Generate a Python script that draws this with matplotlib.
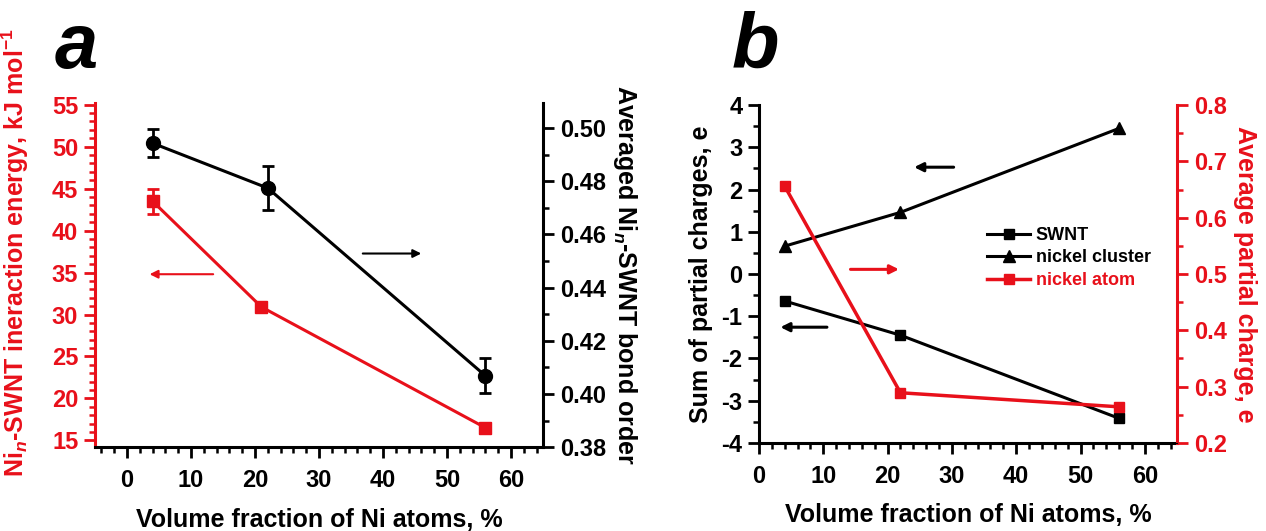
import matplotlib
matplotlib.use("Agg")
import matplotlib.pyplot as plt
from matplotlib.ticker import MultipleLocator, FormatStrFormatter

plt.rcParams['font.family'] = ['Liberation Sans', 'DejaVu Sans']
plt.rcParams['font.weight'] = 'bold'
plt.rcParams['axes.unicode_minus'] = False
plt.rcParams['mathtext.fontset'] = 'custom'
plt.rcParams['mathtext.rm'] = 'Liberation Sans:bold'
plt.rcParams['mathtext.it'] = 'Liberation Sans:bold:italic'
plt.rcParams['mathtext.bf'] = 'Liberation Sans:bold'

RED = '#e8101a'

# panel a: interaction energy (left) and bond order (right)
x_energy = [4, 21, 56]
energy = [43.5, 30.9, 16.5]
energy_err = [1.5, 0.6, 0.6]

x_bond = [4, 22, 56]
bond_order = [0.4943, 0.4774, 0.4068]
bond_err = [0.0053, 0.0083, 0.0066]

# panel b: charges
x_charge = [4, 22, 56]
swnt = [-0.64, -1.45, -3.42]
cluster = [0.66, 1.46, 3.45]
atom = [0.656, 0.289, 0.264]

tick_fs = 17
label_fs = 18

fig = plt.figure(figsize=(12.66, 5.31), dpi=100)


def style_ticks(ax, color, side):
    ax.tick_params(axis='y', which='major', direction='out', length=8, width=2,
                   colors=color, labelsize=tick_fs, pad=4)
    ax.tick_params(axis='y', which='minor', direction='out', length=4.5, width=1.8,
                   colors=color)
    ax.spines[side].set_color(color)
    ax.spines[side].set_linewidth(2.2)


def style_x(ax):
    ax.tick_params(axis='x', which='major', direction='out', length=8, width=2,
                   labelsize=tick_fs, pad=8)
    ax.tick_params(axis='x', which='minor', direction='out', length=4.5, width=1.8)
    ax.spines['bottom'].set_linewidth(2.2)
    ax.xaxis.set_major_locator(MultipleLocator(10))
    ax.xaxis.set_minor_locator(MultipleLocator(2))
    ax.set_xlabel('Volume fraction of Ni atoms, %', fontsize=label_fs,
                  fontweight='bold', labelpad=11)


# ---------------- panel a ----------------
axa = fig.add_axes([0.075, 0.158, 0.354, 0.648])
axa2 = axa.twinx()

axa.errorbar(x_energy, energy, yerr=energy_err, color=RED, marker='s',
             markersize=8, lw=2.2, capsize=4, capthick=2, elinewidth=2)
axa2.errorbar(x_bond, bond_order, yerr=bond_err, color='black', marker='o',
              markersize=10, lw=2.2, capsize=4, capthick=2, elinewidth=2)

axa.set_xlim(-5, 65)
axa.set_ylim(14.2, 55.2)
axa2.set_ylim(0.38, 0.5094)
style_x(axa)
axa.yaxis.set_major_locator(MultipleLocator(5))
axa.yaxis.set_minor_locator(MultipleLocator(1))
axa2.yaxis.set_major_locator(MultipleLocator(0.02))
axa2.yaxis.set_minor_locator(MultipleLocator(0.01))
axa2.yaxis.set_major_formatter(FormatStrFormatter('%.2f'))
style_ticks(axa, RED, 'left')
style_ticks(axa2, 'black', 'right')
for a in (axa, axa2):
    a.spines['top'].set_visible(False)
axa2.spines['left'].set_visible(False)
axa.spines['right'].set_visible(False)

axa.set_ylabel(r'Ni$_{n}$-SWNT ineraction energy, kJ mol$^{\mathrm{-1}}$',
               color=RED, fontsize=label_fs, fontweight='bold')
axa.yaxis.set_label_coords(-0.143, 0.565)
axa2.set_ylabel(r'Averaged Ni$_{n}$-SWNT bond order', color='black',
                fontsize=label_fs, fontweight='bold', rotation=270, labelpad=24)

axa.annotate('', xy=(3.1, 34.8), xytext=(13.9, 34.8),
             arrowprops=dict(arrowstyle='-|>', color=RED, lw=1.5, mutation_scale=12))
axa2.annotate('', xy=(46.4, 0.4528), xytext=(36.4, 0.4528),
              arrowprops=dict(arrowstyle='-|>', color='black', lw=1.5, mutation_scale=12))

# ---------------- panel b ----------------
axb = fig.add_axes([0.5995, 0.166, 0.3302, 0.636])
axb2 = axb.twinx()

l1, = axb.plot(x_charge, swnt, color='black', marker='s', markersize=7, lw=2.2,
               label='SWNT')
l2, = axb.plot(x_charge, cluster, color='black', marker='^', markersize=8, lw=2.2,
               label='nickel cluster')
l3, = axb2.plot(x_charge, atom, color=RED, marker='s', markersize=7, lw=2.5,
                label='nickel atom')

axb.set_xlim(0, 65)
axb.set_ylim(-4, 4)
axb2.set_ylim(0.2, 0.8)
style_x(axb)
axb.yaxis.set_major_locator(MultipleLocator(1))
axb.yaxis.set_minor_locator(MultipleLocator(0.5))
axb2.yaxis.set_major_locator(MultipleLocator(0.1))
axb2.yaxis.set_minor_locator(MultipleLocator(0.05))
axb2.yaxis.set_major_formatter(FormatStrFormatter('%.1f'))
style_ticks(axb, 'black', 'left')
style_ticks(axb2, RED, 'right')
for a in (axb, axb2):
    a.spines['top'].set_visible(False)
axb2.spines['left'].set_visible(False)
axb.spines['right'].set_visible(False)

axb.set_ylabel('Sum of partial charges, e', color='black', fontsize=label_fs,
               fontweight='bold', labelpad=6)
axb2.set_ylabel('Average partial charge, e', color=RED, fontsize=label_fs,
                fontweight='bold', rotation=270, labelpad=22)

axb.annotate('', xy=(23.7, 2.53), xytext=(30.7, 2.53),
             arrowprops=dict(arrowstyle='-|>', color='black', lw=2.2, mutation_scale=13))
axb.annotate('', xy=(2.9, -1.26), xytext=(11.0, -1.26),
             arrowprops=dict(arrowstyle='-|>', color='black', lw=2.2, mutation_scale=13))
axb.annotate('', xy=(22.2, 0.11), xytext=(13.8, 0.11),
             arrowprops=dict(arrowstyle='-|>', color=RED, lw=2.2, mutation_scale=13))

leg = axb2.legend(handles=[l1, l2, l3], loc='upper left',
                  bbox_to_anchor=(987 / 1266, 1 - 227 / 531),
                  bbox_transform=fig.transFigure, frameon=False,
                  prop={'weight': 'bold', 'size': 13}, handlelength=2.4,
                  handletextpad=0.3, labelspacing=0.3, borderpad=0,
                  borderaxespad=0)
leg.get_texts()[2].set_color(RED)

# panel letters
fig.text(0.043, 0.872, 'a', fontsize=56, fontweight='bold', fontstyle='italic',
         va='baseline')
fig.text(0.578, 0.872, 'b', fontsize=56, fontweight='bold', fontstyle='italic',
         va='baseline')

fig.savefig('out.png', dpi=100)
